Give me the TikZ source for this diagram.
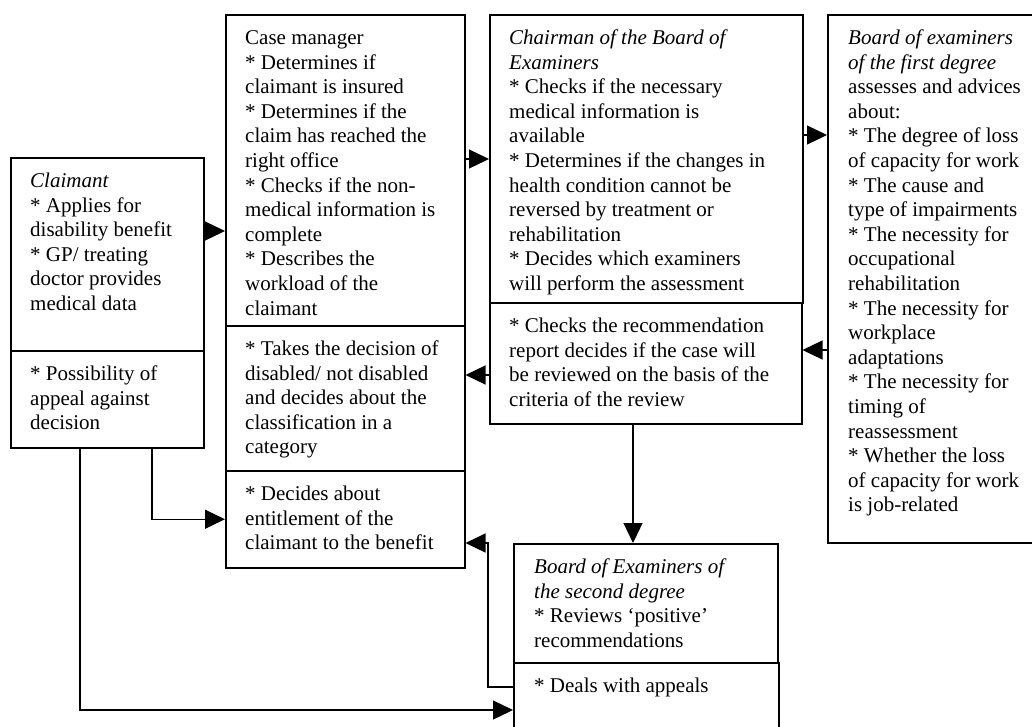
\documentclass[tikz,border=0pt]{standalone}
\usepackage{fontspec}
\setmainfont{Liberation Serif}
\usetikzlibrary{arrows.meta}

\begin{document}
\begin{tikzpicture}[x=1pt,y=-1pt,
  part/.style args={#1x#2}{draw, line width=1.5pt, anchor=north west,
    inner sep=0pt, minimum width=#1pt, minimum height=#2pt},
  txt/.style={anchor=north west, inner sep=0pt, align=left,
    font=\fontsize{21}{24.6}\selectfont},
  arr/.style={draw, line width=1.2pt,
    -{Triangle[length=20pt,width=19pt]}}]

\useasboundingbox (0,0) rectangle (1032,726);
\clip (0,0) rectangle (1032,726);

% box parts
\node[part=193x193] (clA) at (10,157) {};
\node[part=193x97]  (clB) at (10,350) {};
\node[part=239x311] (cmA) at (225,14) {};
\node[part=239x145] (cmB) at (225,325) {};
\node[part=239x97]  (cmC) at (225,470) {};
\node[part=313x288] (chA) at (489,14) {};
\node[part=312x121] (chB) at (489,302) {};
\node[part=220x528] (bf)  at (827,14) {};
\node[part=264x119] (bsA) at (513,543) {};
\node[part=265x80]  (bsB) at (513,662) {};

% texts
\node[txt] at ([shift={(20,13)}]clA.north west) {\strut\textit{Claimant}\\
* Applies for\\ disability benefit\\ * GP/ treating\\ doctor provides\\ medical data};
\node[txt] at ([shift={(20,13)}]clB.north west) {\strut * Possibility of\\
appeal against\\ decision};

\node[txt] at ([shift={(20,13)}]cmA.north west) {\strut Case manager\\
* Determines if\\ claimant is insured\\ * Determines if the\\
claim has reached the\\ right office\\ * Checks if the non-\\
medical information is\\ complete\\ * Describes the\\ workload of the\\ claimant};
\node[txt] at ([shift={(20,13)}]cmB.north west) {\strut * Takes the decision of\\
disabled/ not disabled\\ and decides about the\\ classification in a\\ category};
\node[txt] at ([shift={(20,13)}]cmC.north west) {\strut * Decides about\\
entitlement of the\\ claimant to the benefit};

\node[txt] at ([shift={(20,13)}]chA.north west) {\strut\textit{Chairman of the Board of}\\
\textit{Examiners}\\ * Checks if the necessary\\ medical information is\\ available\\
* Determines if the changes in\\ health condition cannot be\\ reversed by treatment or\\
rehabilitation\\ * Decides which examiners\\ will perform the assessment};
\node[txt] at ([shift={(20,13)}]chB.north west) {\strut * Checks the recommendation\\
report decides if the case will\\ be reviewed on the basis of the\\ criteria of the review};

\node[txt] at ([shift={(21,13)}]bf.north west) {\strut\textit{Board of examiners}\\
\textit{of the first degree}\\ assesses and advices\\ about:\\
* The degree of loss\\ of capacity for work\\ * The cause and\\ type of impairments\\
* The necessity for\\ occupational\\ rehabilitation\\ * The necessity for\\
workplace\\ adaptations\\ * The necessity for\\ timing of\\ reassessment\\
* Whether the loss\\ of capacity for work\\ is job-related};

\node[txt] at ([shift={(21,13)}]bsA.north west) {\strut\textit{Board of Examiners of}\\
\textit{the second degree}\\ * Reviews ‘positive’\\ recommendations};
\node[txt] at ([shift={(21,13)}]bsB.north west) {\strut * Deals with appeals};

% connectors
\draw[arr] ([shift={(0,74)}]clA.north east) coordinate (a1) -- (a1 -| cmA.west);
\draw[arr] ([shift={(0,145)}]cmA.north east) coordinate (a2) -- (a2 -| chA.west);
\draw[arr] ([shift={(0,121)}]chA.north east) coordinate (a3) -- (a3 -| bf.west);
\draw[arr] ([shift={(0,336)}]bf.north west) coordinate (a4) -- (a4 -| chB.east);
\draw[arr] ([shift={(0,73)}]chB.north west) coordinate (a5) -- (a5 -| cmB.east);
\draw[arr] ([shift={(144,0)}]chB.south west) coordinate (a6) -- (a6 |- bsA.north);
\draw[arr] ([shift={(0,25)}]bsB.north west) -- ++(-25,0) |- (cmC.east |- bsA.north west);
\draw[arr] ([shift={(142,0)}]clB.south west) |- (cmC.west);
\draw[arr] ([shift={(70,0)}]clB.south west) |- ([shift={(0,48)}]bsB.north west);

\end{tikzpicture}
\end{document}
